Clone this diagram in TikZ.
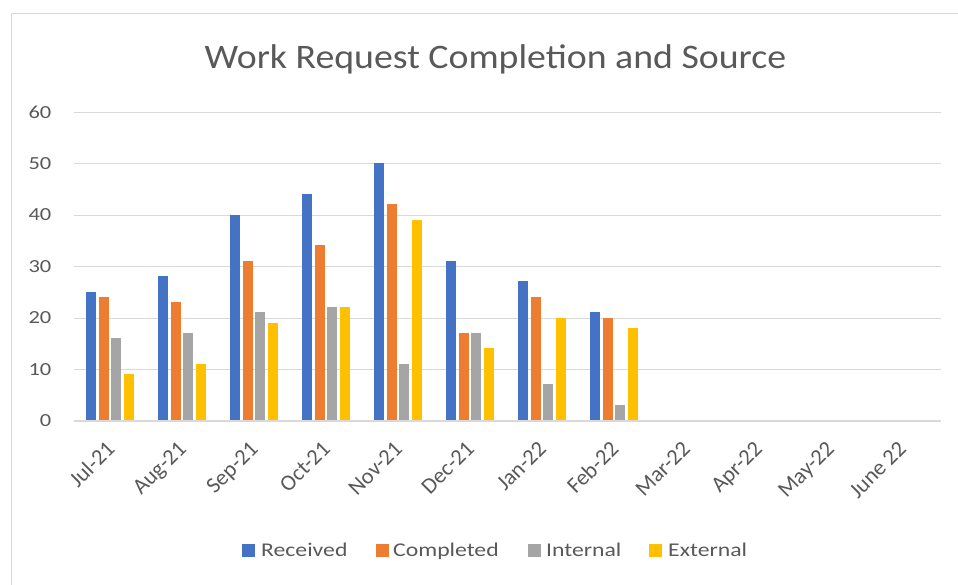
\documentclass[tikz,border=0pt]{standalone}
\usepackage{fontspec}
\setmainfont{Carlito}
\newfontfamily\chartfont[FakeStretch=1.22]{Carlito}
\newfontfamily\titlefont[FakeStretch=1.1]{Carlito}
\newfontfamily\axisfont{Carlito}
\definecolor{rec}{HTML}{4472C4}
\definecolor{cmp}{HTML}{ED7D31}
\definecolor{intl}{HTML}{A5A5A5}
\definecolor{extl}{HTML}{FFC000}
\definecolor{txt}{HTML}{595959}
\definecolor{gridc}{HTML}{D9D9D9}
\tikzset{
  gridline/.style={draw=gridc, line width=1.2bp},
  framel/.style={draw=gridc, line width=1bp},
  ylab/.style={anchor=base east, inner sep=0pt, text=txt, font=\chartfont\fontsize{18.5}{20}\selectfont},
  xlab/.style={anchor=north east, rotate=45, inner sep=0pt, text=txt, font=\axisfont\fontsize{22.5}{23}\selectfont},
  leglab/.style={anchor=base west, inner sep=0pt, text=txt, font=\chartfont\fontsize{19.5}{21}\selectfont},
  titlelab/.style={anchor=base, inner sep=0pt, text=txt, font=\titlefont\fontsize{34.5}{40}\selectfont},
  barrec/.style={fill=rec},
  barcmp/.style={fill=cmp},
  barint/.style={fill=intl},
  barext/.style={fill=extl}
}
\begin{document}
\begin{tikzpicture}[x=1bp,y=-1bp]
\useasboundingbox (0,0) rectangle (958,585);
\fill[white] (0,0) rectangle (958,585);
\draw[framel] (11,585) -- (11,14) -- (958,14);
\node[titlelab] (title) at (495.5,68.3) {Work Request Completion and Source};
\foreach \v [evaluate=\v as \lab using int(10*\v)] in {0,...,6} {
  \draw[gridline] (74,{421-51.45*\v}) -- (941,{421-51.45*\v});
  \node[ylab] (y\v) at (51.5,{421-51.45*\v+5.8}) {\lab};
}
\foreach \r/\c/\i/\e [count=\k from 0] in {25/24/16/9, 28/23/17/11, 40/31/21/19, 44/34/22/22, 50/42/11/39, 31/17/17/14, 27/24/7/20, 21/20/3/18} {
  \fill[barrec] ({74+72*\k+12},420.4) rectangle ++(10,{-5.145*\r});
  \fill[barcmp] ({74+72*\k+24.5},420.4) rectangle ++(10,{-5.145*\c});
  \fill[barint] ({74+72*\k+37},420.4) rectangle ++(10,{-5.145*\i});
  \fill[barext] ({74+72*\k+49.5},420.4) rectangle ++(10,{-5.145*\e});
}
\foreach \m [count=\k from 0] in {Jul-21,Aug-21,Sep-21,Oct-21,Nov-21,Dec-21,Jan-22,Feb-22,Mar-22,Apr-22,May-22,June 22} {
  \node[xlab] (x\k) at ({74+72*\k+31},439.5) {\m};
}
\fill[rec] (242,544) rectangle ++(13,13);
\node[leglab] (l1) at (261,556) {Received};
\fill[cmp] (376,544) rectangle ++(13,13);
\node[leglab] (l2) at (393,556) {Completed};
\fill[intl] (528,544) rectangle ++(13,13);
\node[leglab] (l3) at (546,556) {Internal};
\fill[extl] (649,544) rectangle ++(13,13);
\node[leglab] (l4) at (668,556) {External};
\end{tikzpicture}
\end{document}
